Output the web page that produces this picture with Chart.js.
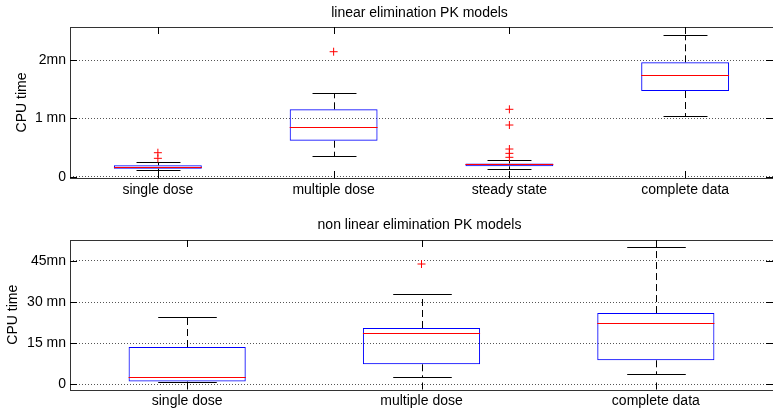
<!DOCTYPE html>
<html>
<head>
<meta charset="utf-8">
<script src="https://cdn.jsdelivr.net/npm/chart.js@4"></script>
<style>
  html, body { margin: 0; padding: 0; background: #fff; overflow: hidden; }
  canvas { position: absolute; left: 0; }
  #cLin { top: 0; }
  #cNon { top: 200px; }
</style>
</head>
<body>
<canvas id="cLin" width="778" height="200"></canvas>
<canvas id="cNon" width="778" height="209"></canvas>
<script>
// panel atas: model eliminasi linear (nilai dalam menit)
const linCategories = ['single dose', 'multiple dose', 'steady state', 'complete data'];
const linLow      = [0.111, 0.361, 0.128, 1.036];
const linQ1       = [0.139, 0.618, 0.18, 1.469];
const linMedian   = [0.168, 0.858, 0.219, 1.748];
const linQ3       = [0.197, 1.156, 0.228, 1.961];
const linHigh     = [0.253, 1.44, 0.293, 2.433];
const linOutliers = [[0.413, 0.317], [2.142], [1.156, 0.887, 0.476, 0.402, 0.334], []];
const linTicks = [0, 1, 2];
const linTickLabels = ['0', '1 mn', '2mn'];

// panel bawah: model eliminasi non linear
const nonCategories = ['single dose', 'multiple dose', 'complete data'];
const nonLow      = [0.8, 2.55, 3.76];
const nonQ1       = [1.0, 7.3, 8.76];
const nonMedian   = [2.55, 18.6, 22.5];
const nonQ3       = [13.6, 20.55, 26.0];
const nonHigh     = [24.45, 33.07, 50.2];
const nonOutliers = [[], [43.9], []];
const nonTicks = [0, 15, 30, 45];
const nonTickLabels = ['0', '15 mn', '30 mn', '45mn'];

const FONT = '"Liberation Sans", Arial, Helvetica, sans-serif';
Chart.defaults.font.family = FONT;
Chart.defaults.font.size = 14;
Chart.defaults.color = '#000';

// plugin untuk whisker, median, bingkai, tick dan judul
const boxExtras = {
  id: 'boxExtras',
  beforeDatasetsDraw(chart, args, o) {
    const { ctx } = chart;
    const x = chart.scales.x, y = chart.scales.y;
    const step = chart.chartArea.width / o.low.length;
    const cap = step * 0.125;
    ctx.save();
    ctx.lineWidth = 1;
    ctx.strokeStyle = '#000';
    o.low.forEach((lo, i) => {
      const cx = Math.round(x.getPixelForValue(i)) + 0.5;
      const yHi = Math.round(y.getPixelForValue(o.high[i])) + 0.5;
      const yLo = Math.round(y.getPixelForValue(lo)) + 0.5;
      ctx.setLineDash([7, 4]);
      ctx.beginPath();
      ctx.moveTo(cx, y.getPixelForValue(o.q3[i]));
      ctx.lineTo(cx, yHi);
      ctx.moveTo(cx, y.getPixelForValue(o.q1[i]));
      ctx.lineTo(cx, yLo);
      ctx.stroke();
      ctx.setLineDash([]);
      ctx.beginPath();
      ctx.moveTo(cx - cap, yHi); ctx.lineTo(cx + cap, yHi);
      ctx.moveTo(cx - cap, yLo); ctx.lineTo(cx + cap, yLo);
      ctx.stroke();
    });
    ctx.restore();
  },
  afterDatasetsDraw(chart, args, o) {
    const { ctx, chartArea: a } = chart;
    const x = chart.scales.x, y = chart.scales.y;
    const step = a.width / o.low.length;
    const half = step * 0.25;
    ctx.save();
    ctx.lineWidth = 1;
    // median
    ctx.strokeStyle = '#ff0000';
    o.med.forEach((m, i) => {
      const cx = x.getPixelForValue(i);
      const my = Math.round(y.getPixelForValue(m)) + 0.5;
      ctx.beginPath();
      ctx.moveTo(cx - half, my); ctx.lineTo(cx + half, my);
      ctx.stroke();
    });
    // bingkai
    ctx.strokeStyle = '#333';
    ctx.strokeRect(Math.round(a.left) + 0.5, Math.round(a.top) + 0.5,
                   Math.round(a.width), Math.round(a.height));
    // tick ke dalam
    ctx.strokeStyle = '#000';
    const tl = 7;
    ctx.beginPath();
    y.ticks.forEach(t => {
      const ty = Math.round(y.getPixelForValue(t.value)) + 0.5;
      ctx.moveTo(a.left, ty); ctx.lineTo(a.left + tl, ty);
      ctx.moveTo(a.right, ty); ctx.lineTo(a.right - tl, ty);
    });
    o.low.forEach((lo, i) => {
      const tx = Math.round(x.getPixelForValue(i)) + 0.5;
      ctx.moveTo(tx, a.top); ctx.lineTo(tx, a.top + tl);
      ctx.moveTo(tx, a.bottom); ctx.lineTo(tx, a.bottom - tl);
    });
    ctx.stroke();
    // judul panel
    ctx.fillStyle = '#000';
    ctx.font = '14px ' + FONT;
    ctx.textAlign = 'center';
    ctx.textBaseline = 'middle';
    ctx.fillText(o.title, (a.left + a.right) / 2 - 2, o.titleY);
    ctx.restore();
  }
};

function makeBoxChart(id, cats, low, q1, med, q3, high, outliers, ticks, tickLabels, cfg) {
  const pts = outliers.flatMap((arr, i) => arr.map(v => ({ x: cats[i], y: v })));
  return new Chart(document.getElementById(id), {
    type: 'bar',
    data: {
      labels: cats,
      datasets: [
        {
          type: 'bar',
          data: cats.map((c, i) => [q1[i], q3[i]]),
          backgroundColor: 'rgba(0,0,0,0)',
          borderColor: '#0000ff',
          borderWidth: 1,
          borderSkipped: false,
          barPercentage: 0.5,
          categoryPercentage: 1
        },
        {
          type: 'scatter',
          data: pts,
          pointStyle: 'cross',
          pointRadius: 4,
          borderColor: '#ff0000',
          backgroundColor: '#ff0000',
          borderWidth: 1
        }
      ]
    },
    options: {
      responsive: false,
      animation: false,
      devicePixelRatio: 1,
      layout: { padding: { top: cfg.top, right: 2, left: 0, bottom: 0 } },
      scales: {
        x: {
          type: 'category',
          offset: true,
          grid: { display: false, drawTicks: false },
          border: { display: false },
          ticks: { padding: 3.5, font: { size: 14 }, color: '#000' },
          afterFit: s => { s.height = cfg.xHeight; }
        },
        y: {
          min: cfg.min,
          max: cfg.max,
          grid: { color: '#555', drawTicks: false },
          border: { display: false, dash: [1, 2] },
          ticks: {
            padding: 4,
            font: { size: 14 },
            color: '#000',
            callback: (v, i) => tickLabels[i]
          },
          afterBuildTicks: s => { s.ticks = ticks.map(v => ({ value: v })); },
          title: {
            display: true,
            text: 'CPU time',
            font: { size: 14 },
            color: '#000',
            padding: { top: cfg.yTitlePad, bottom: 0 }
          },
          afterFit: s => { s.width = 70; }
        }
      },
      plugins: {
        legend: { display: false },
        tooltip: { enabled: false },
        boxExtras: { low, q1, med, q3, high, title: cfg.title, titleY: cfg.titleY }
      }
    },
    plugins: [boxExtras]
  });
}

makeBoxChart('cLin', linCategories, linLow, linQ1, linMedian, linQ3, linHigh, linOutliers,
  linTicks, linTickLabels,
  { title: 'linear elimination PK models', titleY: 13.5, top: 27, xHeight: 22,
    min: -0.02, max: 2.565, yTitlePad: 13.3 });

makeBoxChart('cNon', nonCategories, nonLow, nonQ1, nonMedian, nonQ3, nonHigh, nonOutliers,
  nonTicks, nonTickLabels,
  { title: 'non linear elimination PK models', titleY: 25.5, top: 40, xHeight: 19.5,
    min: -1.9, max: 52.66, yTitlePad: 4.4 });
</script>
</body>
</html>
